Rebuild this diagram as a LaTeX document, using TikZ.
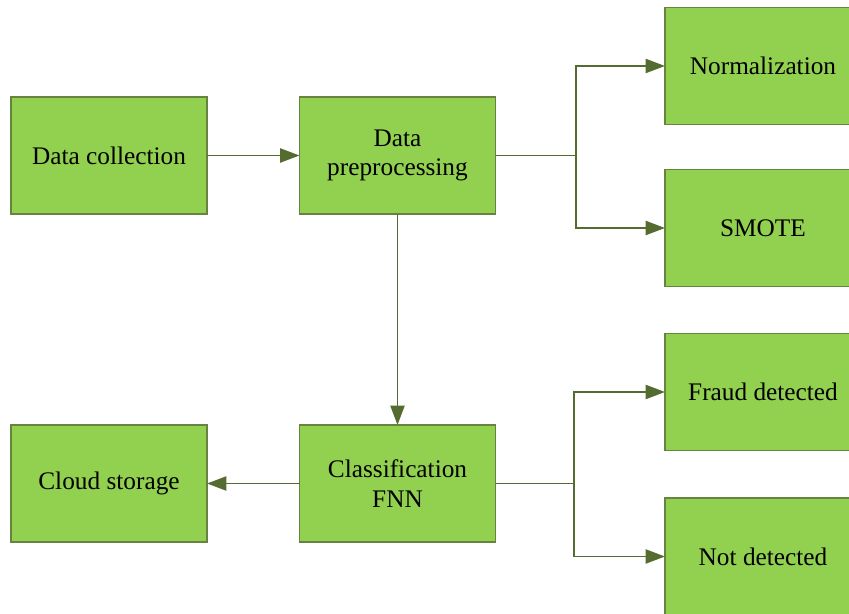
\documentclass[tikz,border=0pt]{standalone}
\usepackage{fontspec}
\setmainfont{Liberation Serif}
\usetikzlibrary{arrows.meta}
\definecolor{boxgreen}{RGB}{146,208,80}
\definecolor{boxedge}{RGB}{104,130,64}
\definecolor{flowline}{RGB}{84,108,48}

\begin{document}
\begin{tikzpicture}[
        box/.style={rectangle, draw=boxedge, fill=boxgreen, line width=0.9pt, align=center,
            minimum width=3.92cm, minimum height=2.34cm, inner sep=0pt, outer sep=0pt,
            font=\fontsize{14.4}{17}\selectfont},
        arrow/.style={-{Triangle[length=11pt, width=8pt]}, draw=flowline, line width=1.1pt}
    ]
        \useasboundingbox (0,0) rectangle (16.98,-12.28);

        \node[box] (coll) at (2.18,-3.11) {Data collection};
        \node[box] (prep) at (7.95,-3.11) {Data\\preprocessing};
        \node[box] (norm) at (15.26,-1.32) {Normalization};
        \node[box] (smote) at (15.26,-4.56) {SMOTE};

        \node[box] (clf) at (7.95,-9.67) {Classification\\FNN};
        \node[box] (cloud) at (2.18,-9.67) {Cloud storage};
        \node[box] (fraud) at (15.26,-7.84) {Fraud detected};
        \node[box] (notdet) at (15.26,-11.13) {Not detected};

        \coordinate (fork1) at (11.52,-3.11);
        \coordinate (fork2) at (11.48,-9.67);

        \draw[arrow] (coll) -- (prep);
        \draw[flowline, line width=1.1pt] (prep.east) -- (fork1);
        \draw[arrow] (fork1) |- (norm.west);
        \draw[arrow] (fork1) |- (smote.west);
        \draw[arrow] (prep) -- (clf);
        \draw[arrow] (clf) -- (cloud);
        \draw[flowline, line width=1.1pt] (clf.east) -- (fork2);
        \draw[arrow] (fork2) |- (fraud.west);
        \draw[arrow] (fork2) |- (notdet.west);
    \end{tikzpicture}
\end{document}
